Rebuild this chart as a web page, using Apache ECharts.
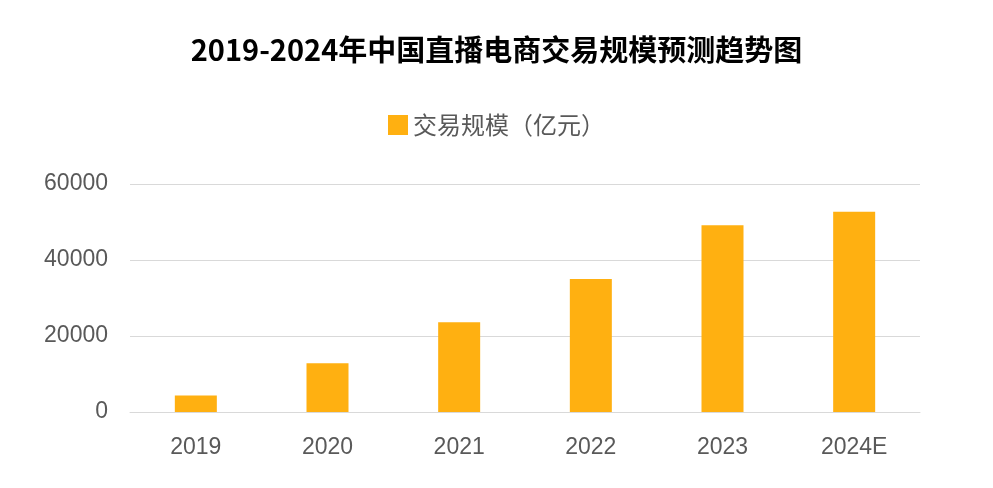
<!DOCTYPE html>
<html><head><meta charset="utf-8">
<script src="https://cdn.jsdelivr.net/npm/echarts@6/dist/echarts.min.js"></script>
<style>html,body{margin:0;padding:0;background:#fff}#c{width:993px;height:488px}</style>
</head><body><div id="c"></div>
<script>
var years = ['2019', '2020', '2021', '2022', '2023', '2024E'];
var scale = [4338, 12850, 23615, 35000, 49168, 52700];

var chart = echarts.init(document.getElementById('c'));
chart.setOption({
  backgroundColor: '#fff',
  title: {
    text: '2019-2024年中国直播电商交易规模预测趋势图',
    left: 'center', top: 30,
    textStyle: { fontSize: 29, fontWeight: 'bold', color: '#000', fontFamily: 'Noto Sans CJK SC' }
  },
  legend: {
    top: 108, left: 'center',
    icon: 'rect', itemWidth: 20, itemHeight: 20,
    textStyle: { fontSize: 24, color: '#595959', fontFamily: 'Noto Sans CJK SC' },
    data: ['交易规模（亿元）']
  },
  grid: { left: 130, right: 73, top: 184, bottom: 76 },
  xAxis: {
    type: 'category', data: years,
    axisLine: { lineStyle: { color: '#d9d9d9' } },
    axisTick: { show: false },
    axisLabel: { fontSize: 23, color: '#595959', margin: 24 }
  },
  yAxis: {
    type: 'value', min: 0, max: 60000, interval: 20000,
    axisLabel: { fontSize: 23, color: '#595959', margin: 22, formatter: function (v) { return String(v); } },
    splitLine: { lineStyle: { color: '#d9d9d9' } }
  },
  series: [{
    name: '交易规模（亿元）', type: 'bar', data: scale,
    barWidth: 42, itemStyle: { color: '#FFB011' }
  }]
});
</script></body></html>
